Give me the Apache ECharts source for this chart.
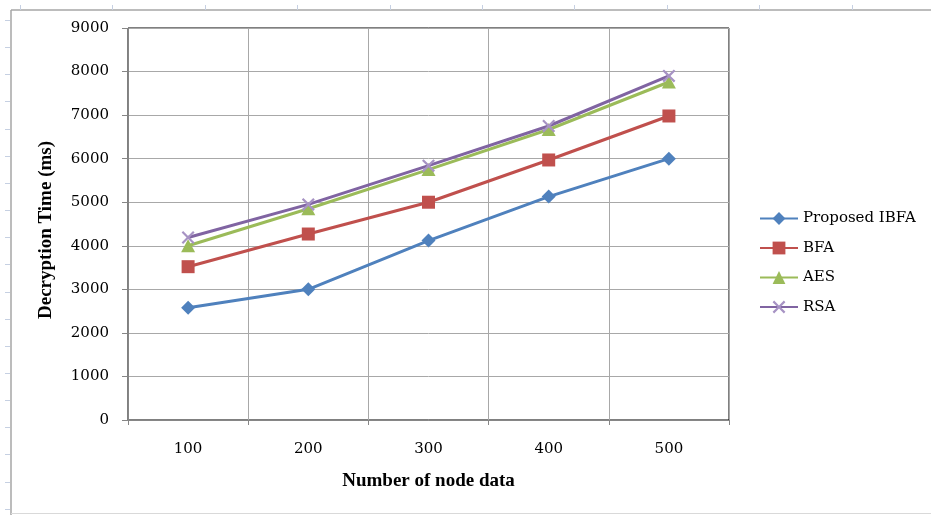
<!DOCTYPE html>
<html>
<head>
<meta charset="utf-8">
<script src="https://cdn.jsdelivr.net/npm/echarts@6/dist/echarts.min.js"></script>
<style>
html,body{margin:0;padding:0;background:#fff;}
#chart{width:931px;height:515px;}
</style>
</head>
<body>
<div id="chart"></div>
<script>
// ---- data ----
const categories = ['100', '200', '300', '400', '500'];
const nodeCounts = [100, 200, 300, 400, 500];
const seriesNames = ['Proposed IBFA', 'BFA', 'AES', 'RSA'];
const ibfa = [2575, 3000, 4120, 5130, 6000];
const bfa = [3520, 4270, 5000, 5970, 6980];
const aes = [4000, 4850, 5750, 6670, 7760];
const rsa = [4190, 4950, 5840, 6750, 7900];
const yTicks = [0, 1000, 2000, 3000, 4000, 5000, 6000, 7000, 8000, 9000];
const xTitle = 'Number of node data';
const yTitle = 'Decryption Time (ms)';

const colors = ['#4F81BD', '#C0504D', '#9BBB59', '#8064A2'];
const xMark = 'path://M0,1.2L1.2,0L5,3.8L8.8,0L10,1.2L6.2,5L10,8.8L8.8,10L5,6.2L1.2,10L0,8.8L3.8,5Z';

const chart = echarts.init(document.getElementById('chart'), null, {renderer: 'canvas'});

function pairs(vals) { return nodeCounts.map((x, i) => [x, vals[i]]); }

// decorative sheet frame ticks
const deco = [];
deco.push({type: 'line', shape: {x1: 11, y1: 10, x2: 931, y2: 10}, style: {stroke: '#a6a6a6', lineWidth: 1.5}, silent: true});
deco.push({type: 'line', shape: {x1: 11, y1: 10, x2: 11, y2: 515}, style: {stroke: '#a6a6a6', lineWidth: 1.5}, silent: true});
deco.push({type: 'line', shape: {x1: 11, y1: 513.5, x2: 931, y2: 513.5}, style: {stroke: '#d9d9d9', lineWidth: 1}, silent: true});
for (let k = 0; k < 19; k++) {
  const y = Math.round(20 + 27.15 * k) + 0.5;
  deco.push({type: 'line', shape: {x1: 5, y1: y, x2: 10, y2: y}, style: {stroke: '#c6d0e2', lineWidth: 1}, silent: true});
}
for (let k = 0; k < 10; k++) {
  const x = Math.round(20 + 92.4 * k) + 0.5;
  deco.push({type: 'line', shape: {x1: x, y1: 5, x2: x, y2: 10}, style: {stroke: '#c6d0e2', lineWidth: 1}, silent: true});
}

const tickFont = 'DejaVu Serif';
const gridColor = '#a8a8a8';

const option = {
  backgroundColor: '#ffffff',
  animation: false,
  color: colors,
  grid: {left: 128, top: 28, right: 202, bottom: 95, show: true, borderColor: '#000', borderWidth: 1, backgroundColor: 'transparent'},
  legend: {
    orient: 'vertical',
    left: 754,
    top: 206,
    itemWidth: 38,
    itemHeight: 16,
    itemGap: 14.5,
    data: seriesNames,
    textStyle: {fontFamily: tickFont, fontSize: 15, color: '#000'}
  },
  xAxis: {
    type: 'value',
    min: 50,
    max: 550,
    interval: 50,
    axisLine: {show: true, onZero: false, lineStyle: {color: '#868686', width: 1}},
    axisTick: {show: true, length: 5, inside: false, customValues: [50, 150, 250, 350, 450, 550], lineStyle: {color: '#868686'}},
    axisLabel: {
      customValues: nodeCounts,
      margin: 22,
      fontFamily: tickFont, fontSize: 15, color: '#000',
      formatter: function (v) { const i = nodeCounts.indexOf(v); return i >= 0 ? categories[i] : ''; }
    },
    splitLine: {show: true, lineStyle: {color: gridColor, width: 1}},
    name: xTitle,
    nameLocation: 'middle',
    nameGap: 52,
    nameTextStyle: {fontFamily: 'Liberation Serif', fontWeight: 'bold', fontSize: 19, color: '#000'}
  },
  yAxis: {
    type: 'value',
    min: yTicks[0],
    max: yTicks[yTicks.length - 1],
    interval: 1000,
    axisLine: {show: true, lineStyle: {color: '#868686', width: 1}},
    axisTick: {show: true, length: 6, inside: false, lineStyle: {color: '#868686'}},
    axisLabel: {margin: 19, fontFamily: tickFont, fontSize: 15, color: '#000',
      formatter: function (v) { return String(v); }},
    splitLine: {show: true, lineStyle: {color: gridColor, width: 1}},
    name: yTitle,
    nameLocation: 'middle',
    nameRotate: 90,
    nameGap: 72,
    nameTextStyle: {fontFamily: 'Liberation Serif', fontWeight: 'bold', fontSize: 19, color: '#000', padding: [0, 12, 0, 0]}
  },
  series: [
    {name: seriesNames[0], type: 'line', data: pairs(ibfa), symbol: 'diamond', symbolSize: 14,
     lineStyle: {width: 3, color: colors[0]}, itemStyle: {color: colors[0]}},
    {name: seriesNames[1], type: 'line', data: pairs(bfa), symbol: 'rect', symbolSize: 13,
     lineStyle: {width: 3, color: colors[1]}, itemStyle: {color: colors[1]}},
    {name: seriesNames[2], type: 'line', data: pairs(aes), symbol: 'triangle', symbolSize: [14, 13],
     lineStyle: {width: 3, color: colors[2]}, itemStyle: {color: colors[2]}},
    {name: seriesNames[3], type: 'line', data: pairs(rsa), symbol: xMark, symbolSize: 13,
     lineStyle: {width: 3, color: colors[3]}, itemStyle: {color: '#a793c4'}}
  ],
  graphic: deco
};
chart.setOption(option);
</script>
</body>
</html>
